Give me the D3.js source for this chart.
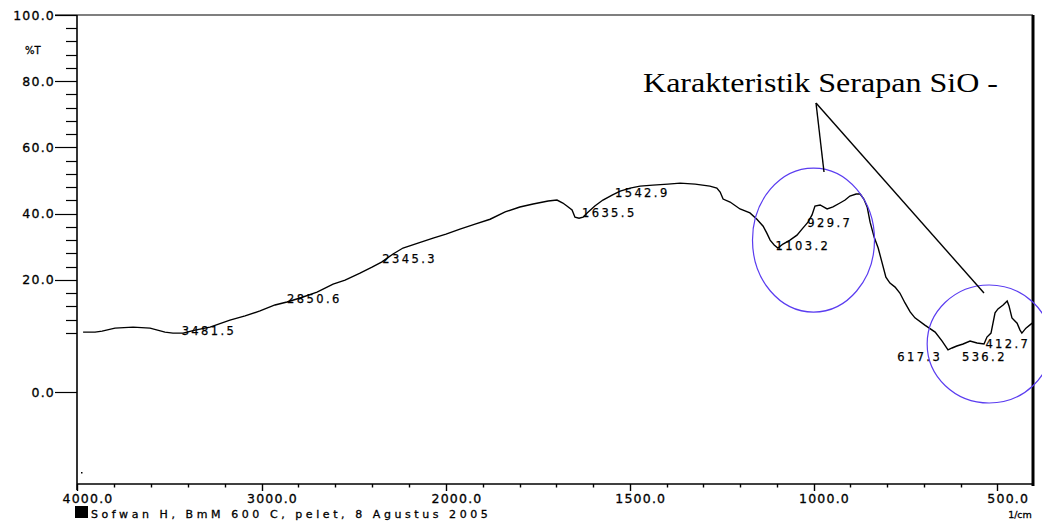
<!DOCTYPE html>
<html>
<head>
<meta charset="utf-8">
<script src="https://cdn.jsdelivr.net/npm/d3@7"></script>
<style>
	body { margin: 0; background: #fff; }
	svg { display: block; }
	.tick-label { font-family: "DejaVu Sans", sans-serif; font-size: 12.5px; letter-spacing: 1.2px; fill: #000; stroke: #000; stroke-width: 0.3px; }
	.peak-label { font-family: "DejaVu Sans", sans-serif; font-size: 11.5px; letter-spacing: 2.4px; fill: #000; stroke: #000; stroke-width: 0.25px; }
</style>
</head>
<body>
<div id="chart"></div>
<script>
// spectrum: wavenumber (1/cm) and %T
var wavenumber = [3967, 3902, 3864, 3794, 3696, 3604, 3523, 3480, 3425, 3360, 3279, 3171, 3089, 3008, 2927, 2862, 2791, 2699, 2612, 2547,
	2466, 2401, 2347, 2287, 2233, 2152, 2070, 2000, 1962, 1921, 1880, 1839, 1799, 1763, 1722, 1698, 1682, 1671, 1657, 1649,
	1638, 1627, 1616, 1595, 1573, 1548, 1526, 1499, 1472, 1437, 1396, 1363, 1322, 1282, 1263, 1254, 1246, 1227, 1200, 1173,
	1154, 1137, 1127, 1118, 1107, 1097, 1083, 1064, 1045, 1029, 1015, 1004, 996, 982, 963, 947, 928, 914, 901, 884,
	873, 863, 854, 846, 835, 824, 814, 803, 792, 778, 765, 751, 737, 724, 697, 669, 650, 634, 623, 610,
	593, 574, 555, 536, 528, 517, 506, 498, 484, 473, 468, 460, 446, 438, 433, 422, 405];
var transmittance = [4.2, 4.2, 4.5, 5.4, 5.7, 5.4, 4.2, 3.9, 3.9, 4.8, 5.7, 7.8, 9.1, 10.6, 12.4, 13.3, 14.5, 16.3, 18.7, 19.9,
	22.0, 23.8, 25.4, 27.8, 29.6, 31.1, 32.6, 33.8, 35.3, 36.8, 38.3, 40.5, 42.0, 42.9, 43.8, 44.1, 43.2, 42.3, 41.1, 38.9,
	38.6, 38.9, 40.2, 42.3, 44.1, 45.6, 46.8, 47.7, 48.3, 48.6, 48.9, 49.2, 48.9, 48.3, 47.7, 46.5, 44.4, 43.5, 41.4, 40.2,
	38.3, 36.2, 34.1, 32.0, 30.5, 29.6, 30.8, 32.0, 33.5, 35.6, 37.4, 39.6, 42.3, 42.6, 41.4, 42.0, 43.2, 44.1, 45.3, 45.9,
	45.9, 44.4, 42.0, 37.4, 32.9, 29.6, 25.4, 20.8, 19.0, 17.8, 16.0, 13.0, 10.3, 8.5, 6.3, 4.2, 1.5, -1.2, -0.6, 0.0,
	0.6, 1.5, 0.9, 0.6, 2.7, 3.9, 10.0, 11.2, 12.4, 13.6, 12.1, 8.5, 6.9, 4.8, 3.9, 5.4, 6.9];

var xTickValues = [4000, 3000, 2000, 1500, 1000, 500];
var xTickLabels = ["4000.0", "3000.0", "2000.0", "1500.0", "1000.0", "500.0"];
var yTickValues = [100, 80, 60, 40, 20];
var yTickLabels = ["100.0", "80.0", "60.0", "40.0", "20.0"];
var zeroLabel = "0.0";
var zeroLabelLevel = -14;   // the printed 0.0 mark sits well below the linear scale

var peakLabels = ["3481.5", "2850.6", "2345.3", "1635.5", "1542.9", "1103.2", "929.7", "617.3", "536.2", "412.7"];
var peakLevel = [4.8, 14.2, 26.3, 40.2, 46.5, 30.5, 37.4, -3.3, -3.3, 0.9];

var noteText = "Karakteristik Serapan SiO -";
var footText = "Sofwan H, BmM 600 C, pelet, 8 Agustus 2005";
var unitText = "1/cm";
var yTitle = "%T";

var width = 1042, height = 522;
var svg = d3.select('#chart').append('svg').attr('width', width).attr('height', height);

// FTIR axis: compressed above 2000 1/cm
var x = d3.scaleLinear().domain([4000, 2000, 400]).range([77, 446, 1034]);
var y = d3.scaleLinear().domain([0, 100]).range([346, 15]);
var axisBottom = 484;

function drawFrame()
{
	svg.append('line').attr('x1', 55).attr('x2', 1033).attr('y1', y(100)).attr('y2', y(100))
		.attr('stroke', '#000').attr('stroke-width', 1.2);
	svg.append('line').attr('x1', 1033).attr('x2', 1033).attr('y1', y(100)).attr('y2', axisBottom + 2)
		.attr('stroke', '#000').attr('stroke-width', 3);
	svg.append('line').attr('x1', 77).attr('x2', 77).attr('y1', y(100)).attr('y2', axisBottom + 6)
		.attr('stroke', '#000').attr('stroke-width', 1.6);
	svg.append('line').attr('x1', 77).attr('x2', 1033).attr('y1', axisBottom).attr('y2', axisBottom)
		.attr('stroke', '#000').attr('stroke-width', 1.6);
	svg.append('rect').attr('x', 81).attr('y', 472).attr('width', 1.5).attr('height', 1.5).attr('fill', '#000');
}

function drawYAxis()
{
	var minor = d3.range(4, 100, 4).filter(function(v) { return v % 20 != 0; });
	svg.selectAll('line.ymin').data(minor).enter().append('line').attr('class', 'ymin')
		.attr('x1', 66).attr('x2', 77)
		.attr('y1', function(d) { return Math.round(y(d)) + 0.5; })
		.attr('y2', function(d) { return Math.round(y(d)) + 0.5; })
		.attr('stroke', '#000').attr('stroke-width', 1.2);

	var majors = yTickValues.concat([zeroLabelLevel]);
	var labels = yTickLabels.concat([zeroLabel]);
	svg.selectAll('line.ymaj').data(majors).enter().append('line').attr('class', 'ymaj')
		.attr('x1', 55).attr('x2', 77)
		.attr('y1', function(d) { return Math.round(y(d)) + 0.5; })
		.attr('y2', function(d) { return Math.round(y(d)) + 0.5; })
		.attr('stroke', '#000').attr('stroke-width', 1.2);
	svg.selectAll('text.ylab').data(majors).enter().append('text').attr('class', 'tick-label ylab')
		.attr('x', 55).attr('y', function(d) { return y(d) + 4.5; })
		.attr('text-anchor', 'end')
		.text(function(d, i) { return labels[i]; });

	svg.append('text').attr('class', 'tick-label').attr('x', 25).attr('y', 54)
		.style('font-size', '10px').style('letter-spacing', '0px').text(yTitle);
}

function drawXAxis()
{
	var minor = d3.range(3800, 2000, -200).concat(d3.range(1900, 400, -100))
		.filter(function(v) { return xTickValues.indexOf(v) < 0; });
	svg.selectAll('line.xmin').data(minor).enter().append('line').attr('class', 'xmin')
		.attr('x1', function(d) { return Math.round(x(d)) + 0.5; })
		.attr('x2', function(d) { return Math.round(x(d)) + 0.5; })
		.attr('y1', axisBottom).attr('y2', axisBottom + 3.5)
		.attr('stroke', '#000').attr('stroke-width', 1.4);
	svg.selectAll('line.xmaj').data(xTickValues).enter().append('line').attr('class', 'xmaj')
		.attr('x1', function(d) { return Math.round(x(d)) + 0.5; })
		.attr('x2', function(d) { return Math.round(x(d)) + 0.5; })
		.attr('y1', axisBottom).attr('y2', axisBottom + 7)
		.attr('stroke', '#000').attr('stroke-width', 1.4);
	svg.selectAll('text.xlab').data(xTickValues).enter().append('text').attr('class', 'tick-label xlab')
		.attr('x', function(d) { return x(d) + 11; }).attr('y', 503)
		.attr('text-anchor', 'middle')
		.text(function(d, i) { return xTickLabels[i]; });

	svg.append('text').attr('class', 'tick-label').attr('x', 1020).attr('y', 518)
		.attr('text-anchor', 'middle').style('font-size', '9.5px').style('letter-spacing', '0px').text(unitText);

	svg.append('rect').attr('x', 75).attr('y', 506).attr('width', 13).attr('height', 12).attr('fill', '#000');
	svg.append('text').attr('class', 'tick-label').attr('x', 91).attr('y', 518)
		.attr('textLength', 398).attr('lengthAdjust', 'spacing')
		.style('font-size', '11px').text(footText);
}

function drawSpectrum()
{
	var pts = wavenumber.map(function(w, i) { return [w, transmittance[i]]; });
	var line = d3.line()
		.x(function(d) { return x(d[0]); })
		.y(function(d) { return y(d[1]); });
	svg.append('path').datum(pts)
		.attr('d', line)
		.attr('fill', 'none').attr('stroke', '#000').attr('stroke-width', 1.4);
}

function drawPeaks()
{
	// label offsets from the peak position, as the instrument printed them
	var dx = [9, -2, 0, 2, 1, 0, -32, -12, -22, 1];
	var anchor = ['start', 'start', 'start', 'start', 'start', 'start', 'start', 'end', 'start', 'end'];
	svg.selectAll('text.peak').data(peakLabels).enter().append('text').attr('class', 'peak-label peak')
		.attr('x', function(d, i) { return x(parseFloat(d)) + dx[i]; })
		.attr('y', function(d, i) { return y(peakLevel[i]) + 4.5; })
		.attr('text-anchor', function(d, i) { return anchor[i]; })
		.text(function(d) { return d; });
}

function drawNote()
{
	svg.append('ellipse').attr('cx', x(1000)).attr('cy', y(32)).attr('rx', 61).attr('ry', 72)
		.attr('fill', 'none').attr('stroke', '#5a3cf0').attr('stroke-width', 1.2);
	svg.append('ellipse').attr('cx', x(522)).attr('cy', y(0.6)).attr('rx', 62).attr('ry', 59)
		.attr('fill', 'none').attr('stroke', '#5a3cf0').attr('stroke-width', 1.2);

	svg.append('line').attr('x1', 816).attr('y1', 103).attr('x2', 824).attr('y2', 172)
		.attr('stroke', '#000').attr('stroke-width', 1.4);
	svg.append('line').attr('x1', 816).attr('y1', 103).attr('x2', 984).attr('y2', 293)
		.attr('stroke', '#000').attr('stroke-width', 1.4);

	svg.append('text').attr('x', 643).attr('y', 92)
		.attr('textLength', 355).attr('lengthAdjust', 'spacingAndGlyphs')
		.style('font-family', '"Liberation Serif", serif').style('font-size', '27px')
		.text(noteText);
}

drawFrame();
drawYAxis();
drawXAxis();
drawSpectrum();
drawPeaks();
drawNote();
</script>
</body>
</html>
